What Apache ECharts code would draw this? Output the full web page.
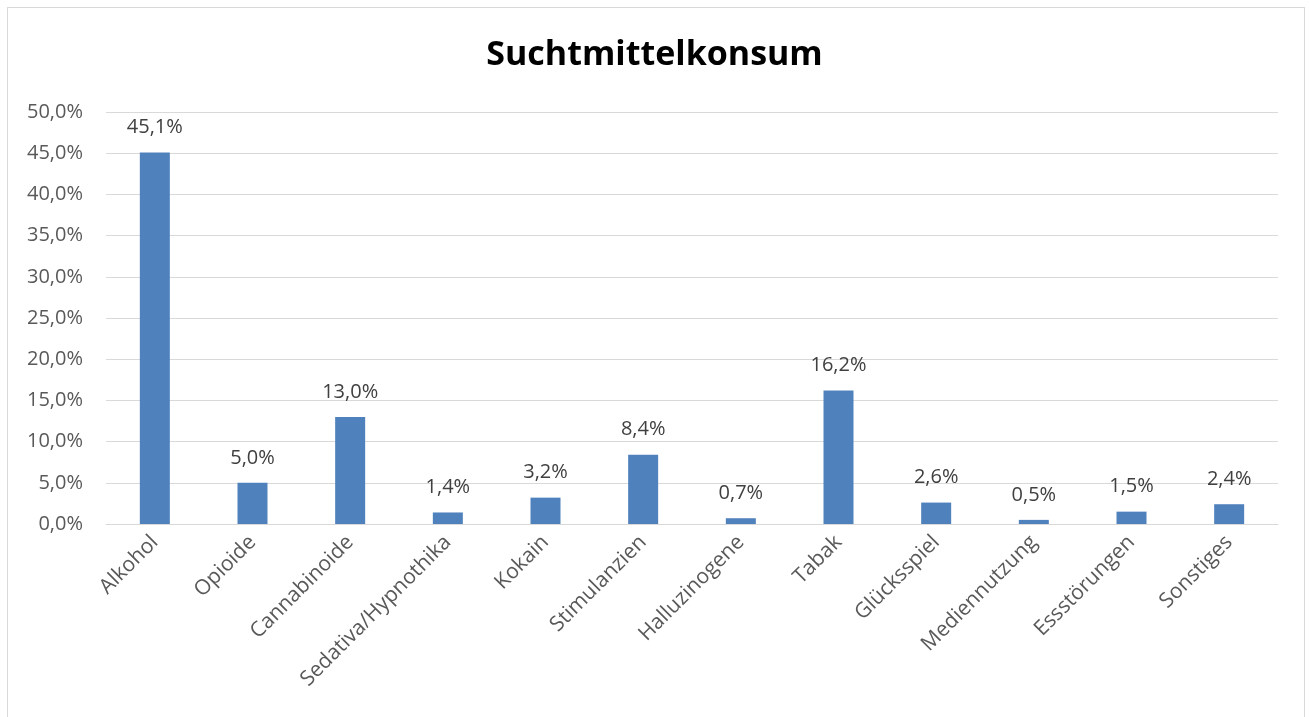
<!DOCTYPE html>
<html>
<head>
<meta charset="utf-8">
<script src="https://cdn.jsdelivr.net/npm/echarts@6/dist/echarts.min.js"></script>
<style>
  html, body { margin: 0; padding: 0; background: #fff; }
  #main { width: 1309px; height: 717px; position: relative; }
  .rahmen { position: absolute; left: 7px; top: 7px; width: 1298px; height: 720px; border: 1px solid #d9d9d9; box-sizing: border-box; }
</style>
</head>
<body>
<div class="rahmen"></div>
<div id="main"></div>
<script>
  // Kategorien und Werte (Prozent)
  var kategorien = ['Alkohol', 'Opioide', 'Cannabinoide', 'Sedativa/Hypnothika', 'Kokain', 'Stimulanzien',
                    'Halluzinogene', 'Tabak', 'Glücksspiel', 'Mediennutzung', 'Essstörungen', 'Sonstiges'];
  var werte = [45.1, 5.0, 13.0, 1.4, 3.2, 8.4, 0.7, 16.2, 2.6, 0.5, 1.5, 2.4];
  var titel = 'Suchtmittelkonsum';

  var schrift = '"Open Sans", "Noto Sans", sans-serif';
  function prozent(v) {
    return v.toFixed(1).replace('.', ',') + '%';
  }

  var chart = echarts.init(document.getElementById('main'));
  var option = {
    animation: false,
    backgroundColor: 'transparent',
    title: {
      text: titel,
      left: 'center',
      top: 33,
      textStyle: { fontFamily: schrift, fontWeight: 'bold', fontSize: 34, color: '#000' }
    },
    grid: { left: 106, right: 31, top: 112, bottom: 193 },
    xAxis: {
      type: 'category',
      data: kategorien,
      axisLine: { lineStyle: { color: '#d9d9d9', width: 1 } },
      axisTick: { show: false },
      axisLabel: {
        rotate: 45,
        interval: 0,
        margin: 15,
        color: '#595959',
        fontFamily: schrift,
        fontSize: 21
      }
    },
    yAxis: {
      type: 'value',
      min: 0,
      max: 50,
      interval: 5,
      axisLine: { show: false },
      axisTick: { show: false },
      splitLine: { lineStyle: { color: '#d9d9d9', width: 1 } },
      axisLabel: {
        margin: 23,
        color: '#595959',
        fontFamily: schrift,
        fontSize: 20,
        formatter: function (v) { return prozent(v); }
      }
    },
    series: [{
      type: 'bar',
      data: werte,
      barWidth: 30,
      itemStyle: { color: '#4f81bd' },
      label: {
        show: true,
        position: 'top',
        distance: 15,
        color: '#404040',
        fontFamily: schrift,
        fontSize: 20,
        formatter: function (p) { return prozent(p.value); }
      }
    }]
  };
  chart.setOption(option);
</script>
</body>
</html>
